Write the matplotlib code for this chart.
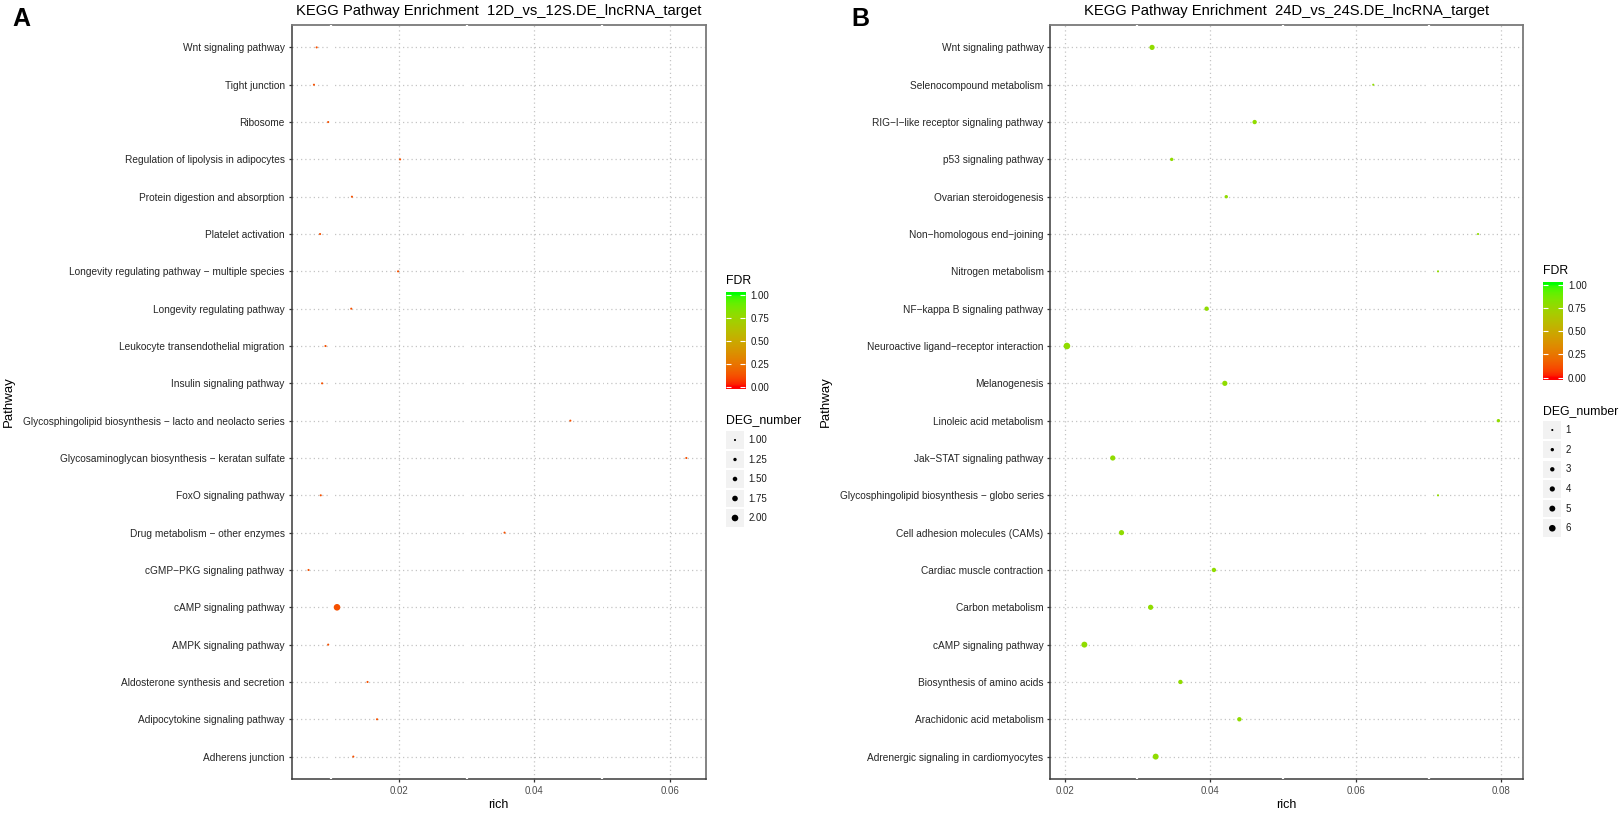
import numpy as np
import matplotlib
matplotlib.use("Agg")
import matplotlib.pyplot as plt
from matplotlib.colors import ListedColormap
from matplotlib.patches import Rectangle

plt.rcParams['font.family'] = ['Liberation Sans', 'DejaVu Sans']

W, H = 1623, 813

# panel A data, top to bottom as shown
path_a = ["Wnt signaling pathway", "Tight junction", "Ribosome",
          "Regulation of lipolysis in adipocytes",
          "Protein digestion and absorption", "Platelet activation",
          "Longevity regulating pathway \u2212 multiple species",
          "Longevity regulating pathway",
          "Leukocyte transendothelial migration",
          "Insulin signaling pathway",
          "Glycosphingolipid biosynthesis \u2212 lacto and neolacto series",
          "Glycosaminoglycan biosynthesis \u2212 keratan sulfate",
          "FoxO signaling pathway",
          "Drug metabolism \u2212 other enzymes",
          "cGMP\u2212PKG signaling pathway", "cAMP signaling pathway",
          "AMPK signaling pathway",
          "Aldosterone synthesis and secretion",
          "Adipocytokine signaling pathway", "Adherens junction"]
rich_a = [0.0079, 0.0075, 0.0096, 0.0202, 0.0131, 0.0084, 0.0199, 0.0130,
          0.0092, 0.0087, 0.0453, 0.0624, 0.0085, 0.0356, 0.0067, 0.0109,
          0.0096, 0.0154, 0.0168, 0.0133]
deg_a = [1, 1, 1, 1, 1, 1, 1, 1, 1, 1, 1, 1, 1, 1, 1, 2, 1, 1, 1, 1]
fdr_a = [0.12] * 20

# panel B data
path_b = ["Wnt signaling pathway", "Selenocompound metabolism",
          "RIG\u2212I\u2212like receptor signaling pathway",
          "p53 signaling pathway", "Ovarian steroidogenesis",
          "Non\u2212homologous end\u2212joining", "Nitrogen metabolism",
          "NF\u2212kappa B signaling pathway",
          "Neuroactive ligand\u2212receptor interaction", "Melanogenesis",
          "Linoleic acid metabolism", "Jak\u2212STAT signaling pathway",
          "Glycosphingolipid biosynthesis \u2212 globo series",
          "Cell adhesion molecules (CAMs)", "Cardiac muscle contraction",
          "Carbon metabolism", "cAMP signaling pathway",
          "Biosynthesis of amino acids", "Arachidonic acid metabolism",
          "Adrenergic signaling in cardiomyocytes"]
rich_b = [0.0320, 0.0624, 0.0461, 0.0347, 0.0422, 0.0768, 0.0713, 0.0395,
          0.0203, 0.0420, 0.0796, 0.0266, 0.0713, 0.0278, 0.0405, 0.0318,
          0.0227, 0.0359, 0.0440, 0.0325]
deg_b = [4, 1, 3, 2, 2, 1, 1, 3, 6, 4, 2, 4, 1, 4, 3, 4, 5, 3, 3, 5]
fdr_b = [0.78] * 20

title_a = "KEGG Pathway Enrichment  12D_vs_12S.DE_lncRNA_target"
title_b = "KEGG Pathway Enrichment  24D_vs_24S.DE_lncRNA_target"


# red -> green gradient interpolated in CIELAB (like ggplot)
M = np.array([[0.4124, 0.3576, 0.1805],
              [0.2126, 0.7152, 0.0722],
              [0.0193, 0.1192, 0.9505]])
WHITE = np.array([0.95047, 1.0, 1.08883])


def to_lab(rgb):
    rgb = np.asarray(rgb, float)
    lin = np.where(rgb <= 0.04045, rgb / 12.92, ((rgb + 0.055) / 1.055) ** 2.4)
    t = (M @ lin) / WHITE
    f = np.where(t > (6 / 29) ** 3, np.cbrt(t), t / (3 * (6 / 29) ** 2) + 4 / 29)
    return np.array([116 * f[1] - 16, 500 * (f[0] - f[1]), 200 * (f[1] - f[2])])


def from_lab(lab):
    L, a, b = lab
    fy = (L + 16) / 116
    f = np.array([fy + a / 500, fy, fy - b / 200])
    d = 6 / 29
    t = np.where(f > d, f ** 3, 3 * d * d * (f - 4 / 29))
    lin = np.clip(np.linalg.inv(M) @ (t * WHITE), 0, 1)
    rgb = np.where(lin <= 0.0031308, 12.92 * lin, 1.055 * lin ** (1 / 2.4) - 0.055)
    return np.clip(rgb, 0, 1)


lab_lo, lab_hi = to_lab([1, 0, 0]), to_lab([0, 1, 0])
cmap = ListedColormap([from_lab(lab_lo + (lab_hi - lab_lo) * t)
                       for t in np.linspace(0, 1, 256)])


def dot_area(v, vmin, vmax):
    d = 2.1 + 4.5 * (np.sqrt(v) - np.sqrt(vmin)) / (np.sqrt(vmax) - np.sqrt(vmin))
    return (d * 0.72) ** 2


fig = plt.figure(figsize=(W / 100, H / 100), dpi=100)


def draw_panel(l, t, r, b, names, rich, deg, fdr, xlim, xticks, minor):
    ax = fig.add_axes([l / W, 1 - b / H, (r - l) / W, (b - t) / H])
    n = len(names)
    y = np.arange(n)[::-1]
    ax.set_xlim(xlim)
    ax.set_ylim(-0.6, n - 0.4)
    ax.set_yticks(y)
    ax.set_yticklabels(names)
    ax.set_xticks(xticks)
    ax.set_xticklabels(["%.2f" % v for v in xticks])
    ax.grid(True, ls=(0, (1, 2.4)), color='#c4c4c4', lw=0.9, zorder=0)
    ax.set_axisbelow(True)
    # white minor breaks like ggplot theme
    ax.vlines(minor, 0, 1, transform=ax.get_xaxis_transform(), colors='white',
              lw=1.6, zorder=2.6, clip_on=False)
    deg = np.array(deg)
    ax.scatter(rich, y, s=dot_area(deg, deg.min(), deg.max()),
               c=cmap(np.array(fdr)), edgecolors='none', zorder=4)
    for side in ['left', 'bottom']:
        ax.spines[side].set_color('#3a3a3a')
        ax.spines[side].set_linewidth(1.1)
    for side in ['top', 'right']:
        ax.spines[side].set_color('#7a7a7a')
        ax.spines[side].set_linewidth(1.3)
    ax.tick_params(axis='y', length=2.2, width=0.9, color='#333333',
                   labelsize=7.3, labelcolor='#262626', pad=2.7)
    ax.tick_params(axis='x', length=2.2, width=0.9, color='#333333',
                   labelsize=7, labelcolor='#4d4d4d', pad=2.9)
    return ax


ax_a = draw_panel(291.5, 25, 706, 779, path_a, rich_a, deg_a, fdr_a,
                  (0.00419, 0.0653), [0.02, 0.04, 0.06], [0.01, 0.03, 0.05])
ax_b = draw_panel(1050.4, 25, 1523, 779, path_b, rich_b, deg_b, fdr_b,
                  (0.01803, 0.08298), [0.02, 0.04, 0.06, 0.08],
                  [0.03, 0.05, 0.07])


def fdr_bar(l, r, y1, y0):
    per = y0 - y1
    lo, hi = -2.3 / per, 1 + 3 / per
    cax = fig.add_axes([l / W, 1 - (y0 + 2.3) / H, (r - l) / W,
                        (per + 5.3) / H])
    cax.imshow(np.linspace(lo, hi, 300)[:, None], origin='lower',
               extent=[0, 1, lo, hi], aspect='auto', cmap=cmap, vmin=0, vmax=1)
    cax.set_xlim(0, 1)
    cax.set_ylim(lo, hi)
    cax.set_xticks([])
    cax.set_yticks([0, 0.25, 0.5, 0.75, 1])
    cax.set_yticklabels(["0.00", "0.25", "0.50", "0.75", "1.00"])
    cax.tick_params(axis='y', direction='in', length=3.5, width=0.8,
                    color='white', left=True, right=True, labelleft=False,
                    labelright=True, labelsize=7, labelcolor='#1a1a1a', pad=3.9)
    for s in cax.spines.values():
        s.set_visible(False)


fdr_bar(725.7, 745.3, 294.7, 386.7)
fdr_bar(1542.7, 1562.7, 284.7, 377.7)

# overlay for text and size legends (pixel coordinates)
ov = fig.add_axes([0, 0, 1, 1])
ov.set_xlim(0, W)
ov.set_ylim(H, 0)
ov.axis('off')
ov.patch.set_alpha(0)


def size_legend(x0, title_y, first_y, step, values, labels):
    ov.text(x0, title_y, "DEG_number", fontsize=8.8, va='center', ha='left')
    v = np.array(values, float)
    for i, lab in enumerate(labels):
        cy = first_y + i * step
        ov.add_patch(Rectangle((x0, cy - 8.8), 18, 17.6, facecolor='#f2f2f2',
                               edgecolor='none'))
        ov.text(x0 + 22.5, cy, lab, fontsize=7, va='center', color='#1a1a1a')
    ov.scatter(np.full(len(v), x0 + 9), first_y + np.arange(len(v)) * step,
               s=dot_area(v, v.min(), v.max()), c='black', edgecolors='none')


size_legend(726, 420, 440, 19.5, [1, 1.25, 1.5, 1.75, 2],
            ["1.00", "1.25", "1.50", "1.75", "2.00"])
size_legend(1543.3, 410.7, 430, 19.65, [1, 2, 3, 4, 5, 6],
            ["1", "2", "3", "4", "5", "6"])

ov.text(726, 280.5, "FDR", fontsize=8.8, va='center', ha='left')
ov.text(1542.7, 270.5, "FDR", fontsize=8.8, va='center', ha='left')

ov.text(498.7, 10.5, title_a, fontsize=10.6, ha='center', va='center')
ov.text(1286.7, 10.5, title_b, fontsize=10.6, ha='center', va='center')
ov.text(21.5, 19, "A", fontsize=18, fontweight='bold', ha='center', va='center')
ov.text(860, 19, "B", fontsize=18, fontweight='bold', ha='center', va='center')
ov.text(8.5, 402, "Pathway", fontsize=9.5, rotation=90, ha='center', va='center')
ov.text(826, 402, "Pathway", fontsize=9.5, rotation=90, ha='center', va='center')
ov.text(498.7, 805, "rich", fontsize=9, ha='center', va='center')
ov.text(1286.7, 805, "rich", fontsize=9, ha='center', va='center')

fig.savefig("out.png", dpi=100)
